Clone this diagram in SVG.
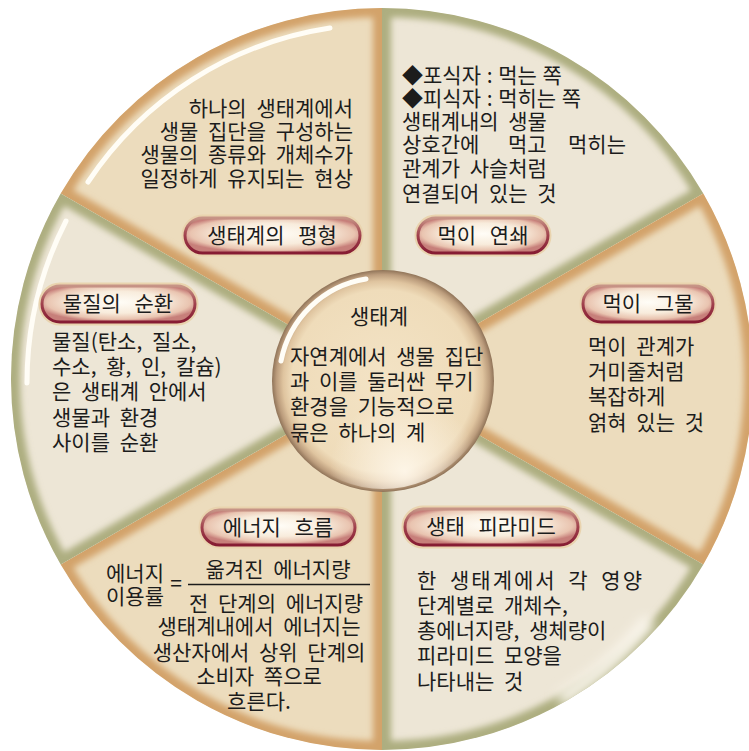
<svg xmlns="http://www.w3.org/2000/svg" width="749" height="751" viewBox="0 0 749 751">
<style>
text{font-family:"Noto Sans CJK KR","Noto Sans",sans-serif;font-size:21px;fill:#1c1c1c;word-spacing:5px}
.pill{stroke:url(#pillStroke);stroke-width:3;fill:url(#pillFill)}
.halo{fill:none;stroke:#e9d3ae;stroke-width:7}
.lbl{text-anchor:middle;word-spacing:9px}
.dark{fill:#ecdcbd}
.light{fill:#ede6d6}
.rimD{fill:none;stroke:#d3a36a;stroke-width:18;filter:url(#blur)}
.rimL{fill:none;stroke:#adae80;stroke-width:18;filter:url(#blur)}
.hl{fill:none;stroke:#fffdf6;stroke-width:5;stroke-linecap:round}
</style>
<defs>
<filter id="blur" x="-10%" y="-10%" width="120%" height="120%"><feGaussianBlur stdDeviation="3"/></filter>
<filter id="soft" x="-20%" y="-20%" width="140%" height="140%"><feGaussianBlur stdDeviation="6"/></filter>
<radialGradient id="pillFill" cx="0.5" cy="0.45" r="0.55">
<stop offset="0" stop-color="#fffdf7"/>
<stop offset="0.55" stop-color="#f8ecdc"/>
<stop offset="0.85" stop-color="#e9c4b0"/>
<stop offset="1" stop-color="#c77f7a"/>
</radialGradient>
<linearGradient id="pillStroke" x1="0" y1="0" x2="0" y2="1">
<stop offset="0" stop-color="#c79486"/>
<stop offset="0.5" stop-color="#a0404c"/>
<stop offset="1" stop-color="#861c33"/>
</linearGradient>
<radialGradient id="core" cx="0.5" cy="0.5" r="0.5">
<stop offset="0" stop-color="#f3e3c5"/>
<stop offset="0.82" stop-color="#efdcba"/>
<stop offset="0.9" stop-color="#dfc49f"/>
<stop offset="0.96" stop-color="#bb9c7c"/>
<stop offset="1" stop-color="#8f7358"/>
</radialGradient>
<radialGradient id="coreGlow" cx="0.6" cy="0.92" r="0.35">
<stop offset="0" stop-color="#fff8ec" stop-opacity="0.9"/>
<stop offset="1" stop-color="#fff8ec" stop-opacity="0"/>
</radialGradient>
<clipPath id="c1"><path d="M382 379 L60.7 193.5 A371 371 0 0 1 382 8 Z"/></clipPath>
<clipPath id="c2"><path d="M382 379 L382 8 A371 371 0 0 1 703.3 193.5 Z"/></clipPath>
<clipPath id="c3"><path d="M382 379 L703.3 193.5 A371 371 0 0 1 703.3 564.5 Z"/></clipPath>
<clipPath id="c4"><path d="M382 379 L703.3 564.5 A371 371 0 0 1 382 750 Z"/></clipPath>
<clipPath id="c5"><path d="M382 379 L382 750 A371 371 0 0 1 60.7 564.5 Z"/></clipPath>
<clipPath id="c6"><path d="M382 379 L60.7 564.5 A371 371 0 0 1 60.7 193.5 Z"/></clipPath>
</defs>

<g id="sectors">
<g clip-path="url(#c1)"><path class="dark" d="M382 379 L60.7 193.5 A371 371 0 0 1 382 8 Z"/><path class="rimD" d="M382 379 L60.7 193.5 A371 371 0 0 1 382 8 Z"/></g>
<g clip-path="url(#c2)"><path class="light" d="M382 379 L382 8 A371 371 0 0 1 703.3 193.5 Z"/><path class="rimL" d="M382 379 L382 8 A371 371 0 0 1 703.3 193.5 Z"/></g>
<g clip-path="url(#c3)"><path class="dark" d="M382 379 L703.3 193.5 A371 371 0 0 1 703.3 564.5 Z"/><path class="rimD" d="M382 379 L703.3 193.5 A371 371 0 0 1 703.3 564.5 Z"/></g>
<g clip-path="url(#c4)"><path class="light" d="M382 379 L703.3 564.5 A371 371 0 0 1 382 750 Z"/><path class="rimL" d="M382 379 L703.3 564.5 A371 371 0 0 1 382 750 Z"/><path d="M560 700 A352 352 0 0 0 650 620" fill="none" stroke="#fbf7ee" stroke-width="14" filter="url(#soft)"/></g>
<g clip-path="url(#c5)"><path class="dark" d="M382 379 L382 750 A371 371 0 0 1 60.7 564.5 Z"/><path class="rimD" d="M382 379 L382 750 A371 371 0 0 1 60.7 564.5 Z"/></g>
<g clip-path="url(#c6)"><path class="light" d="M382 379 L60.7 564.5 A371 371 0 0 1 60.7 193.5 Z"/><path class="rimL" d="M382 379 L60.7 564.5 A371 371 0 0 1 60.7 193.5 Z"/></g>
<path class="hl" d="M88 182 A354 354 0 0 1 330 28"/>
<path class="hl" d="M66 221 A355 355 0 0 0 27 383" stroke-width="4"/>
</g>

<g id="center">
<circle cx="383" cy="381" r="111" fill="url(#core)"/>
<circle cx="383" cy="381" r="108" fill="url(#coreGlow)"/>
<path class="hl" d="M281 361 A103 103 0 0 1 366 279" stroke-width="4"/>
<text x="379" y="324" text-anchor="middle">생태계</text>
<text x="290" y="364">자연계에서 생물 집단</text>
<text x="290" y="389">과 이를 둘러싼 무기</text>
<text x="290" y="414">환경을 기능적으로</text>
<text x="290" y="440">묶은 하나의 계</text>
</g>

<g id="balance">
<rect class="halo" x="185" y="218" width="175" height="35" rx="17.5"/>
<rect class="pill" x="185" y="218" width="175" height="35" rx="17.5"/>
<text class="lbl" x="272" y="243">생태계의 평형</text>
<text x="353" y="116" text-anchor="end">하나의 생태계에서</text>
<text x="353" y="139" text-anchor="end">생물 집단을 구성하는</text>
<text x="353" y="162" text-anchor="end">생물의 종류와 개체수가</text>
<text x="353" y="186" text-anchor="end">일정하게 유지되는 현상</text>
</g>

<g id="food-chain">
<rect class="halo" x="418" y="218" width="130" height="35" rx="17.5"/>
<rect class="pill" x="418" y="218" width="130" height="35" rx="17.5"/>
<text class="lbl" x="483" y="243">먹이 연쇄</text>
<text x="402" y="83" style="word-spacing:1px">◆포식자 : 먹는 쪽</text>
<text x="402" y="106" style="word-spacing:1px">◆피식자 : 먹히는 쪽</text>
<text x="402" y="129">생태계내의 생물</text>
<text x="402" y="152"><tspan x="402">상호간에</tspan><tspan x="508">먹고</tspan><tspan x="568">먹히는</tspan></text>
<text x="402" y="176">관계가 사슬처럼</text>
<text x="402" y="201">연결되어 있는 것</text>
</g>

<g id="food-web">
<rect class="halo" x="583" y="286" width="130" height="36" rx="18"/>
<rect class="pill" x="583" y="286" width="130" height="36" rx="18"/>
<text class="lbl" x="648" y="311">먹이 그물</text>
<text x="588" y="354">먹이 관계가</text>
<text x="588" y="379">거미줄처럼</text>
<text x="588" y="404">복잡하게</text>
<text x="588" y="430">얽혀 있는 것</text>
</g>

<g id="pyramid">
<rect class="halo" x="405" y="509" width="173" height="36" rx="18"/>
<rect class="pill" x="405" y="509" width="173" height="36" rx="18"/>
<text class="lbl" x="491" y="534">생태 피라미드</text>
<text x="417" y="588" textLength="225" lengthAdjust="spacing">한 생태계에서 각 영양</text>
<text x="417" y="613">단계별로 개체수,</text>
<text x="417" y="638">총에너지량, 생체량이</text>
<text x="417" y="663">피라미드 모양을</text>
<text x="417" y="689">나타내는 것</text>
</g>

<g id="energy">
<rect class="halo" x="202" y="510" width="153" height="35" rx="17.5"/>
<rect class="pill" x="202" y="510" width="153" height="35" rx="17.5"/>
<text class="lbl" x="278" y="535">에너지 흐름</text>
<text x="106" y="581">에너지</text>
<text x="106" y="604">이용률</text>
<text x="176" y="591" text-anchor="middle">=</text>
<text x="278" y="577" text-anchor="middle">옮겨진 에너지량</text>
<line x1="188" y1="584.5" x2="370" y2="584.5" stroke="#1c1c1c" stroke-width="1.3"/>
<text x="276" y="611" text-anchor="middle">전 단계의 에너지량</text>
<text x="259" y="634" text-anchor="middle">생태계내에서 에너지는</text>
<text x="259" y="660" text-anchor="middle">생산자에서 상위 단계의</text>
<text x="259" y="684" text-anchor="middle">소비자 쪽으로</text>
<text x="259" y="709" text-anchor="middle">흐른다.</text>
</g>

<g id="cycle">
<rect class="halo" x="42" y="286" width="153" height="36" rx="18"/>
<rect class="pill" x="42" y="286" width="153" height="36" rx="18"/>
<text class="lbl" x="118" y="311">물질의 순환</text>
<text x="52" y="349">물질(탄소, 질소,</text>
<text x="52" y="374">수소, 황, 인, 칼슘)</text>
<text x="52" y="399">은 생태계 안에서</text>
<text x="52" y="425">생물과 환경</text>
<text x="52" y="450">사이를 순환</text>
</g>

<g id="connectors"></g>
</svg>
